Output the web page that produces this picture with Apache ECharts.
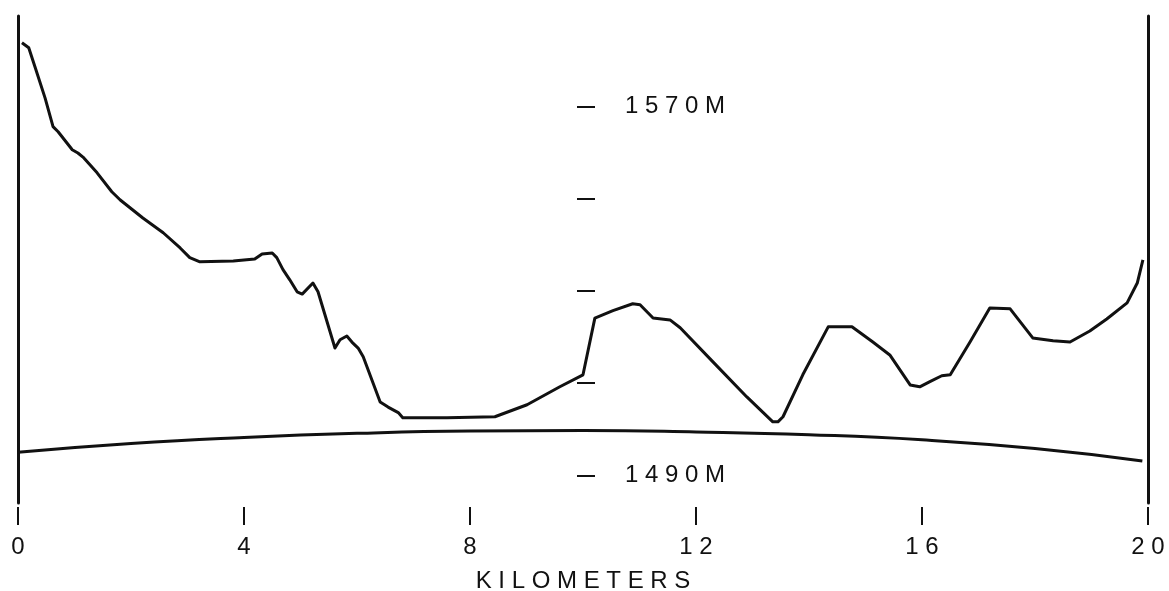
<!DOCTYPE html>
<html>
<head>
<meta charset="utf-8">
<script src="https://cdn.jsdelivr.net/npm/echarts@6/dist/echarts.min.js"></script>
<style>
  html, body { margin: 0; padding: 0; background: #fff; }
  #chart { width: 1169px; height: 591px; }
</style>
</head>
<body>
<div id="chart"></div>
<script>
// terrain profile along the path (km, metres)
const profileKm = [0.07, 0.19, 0.30, 0.48, 0.62, 0.71, 0.96, 1.06, 1.15, 1.40, 1.66, 1.81, 2.21, 2.57, 2.87, 3.04, 3.22,
  3.81, 4.19, 4.32, 4.50, 4.58, 4.69, 4.81, 4.94, 5.03, 5.22, 5.31, 5.61, 5.70, 5.82, 5.91, 6.02, 6.11, 6.41, 6.55,
  6.73, 6.81, 7.59, 8.44, 9.01, 9.59, 10.00, 10.21, 10.53, 10.88, 11.01, 11.24, 11.54, 11.72, 12.30, 12.90, 13.36,
  13.45, 13.54, 13.89, 14.34, 14.76, 15.13, 15.43, 15.79, 15.96, 16.14, 16.35, 16.50, 16.85, 17.20, 17.56, 17.96,
  18.32, 18.62, 18.97, 19.27, 19.63, 19.81, 19.91];
const profileM = [1583.8, 1582.7, 1578.6, 1571.8, 1565.6, 1564.5, 1560.6, 1559.9, 1559.0, 1555.6, 1551.5, 1549.7, 1545.8,
  1542.6, 1539.3, 1537.2, 1536.3, 1536.5, 1536.9, 1538.0, 1538.2, 1537.2, 1534.6, 1532.4, 1529.8, 1529.3, 1531.7,
  1529.8, 1517.6, 1519.4, 1520.2, 1518.9, 1517.6, 1515.7, 1505.9, 1504.8, 1503.6, 1502.5, 1502.5, 1502.7, 1505.3,
  1509.2, 1511.8, 1524.1, 1525.7, 1527.2, 1527.0, 1524.1, 1523.7, 1522.0, 1514.6, 1507.0, 1501.6, 1501.6, 1502.7,
  1511.8, 1522.2, 1522.2, 1518.9, 1516.1, 1509.6, 1509.2, 1510.3, 1511.6, 1511.8, 1518.9, 1526.3, 1526.1, 1519.8,
  1519.2, 1518.9, 1521.3, 1523.9, 1527.4, 1531.7, 1536.7];

// earth-curvature reference line
const curveKm = [0, 2, 4, 6, 8, 10, 12, 14, 16, 18, 19.9];
const curveM = [1495.0, 1496.9, 1498.2, 1499.1, 1499.6, 1499.7, 1499.4, 1498.8, 1497.7, 1495.8, 1493.1];

const xTicks = [0, 4, 8, 12, 16, 20];
const xTickLabels = ['0', '4', '8', '1 2', '1 6', '2 0'];
const yTicks = [1490, 1510, 1530, 1550, 1570];
const yLabelValues = [1490, 1570];
const yLabelText = ['1 4 9 0 M', '1 5 7 0 M'];

const Y_MIN = 1484;
const Y_MAX = 1589.6;
const INK = '#111';
const FONT = 'Liberation Sans';

const chart = echarts.init(document.getElementById('chart'));

const edgeAxis = (pos) => ({
  type: 'value', position: pos, min: Y_MIN, max: Y_MAX,
  axisLine: { show: true, lineStyle: { color: INK, width: 3 } },
  axisTick: { show: false }, axisLabel: { show: false }, splitLine: { show: false }
});

chart.setOption({
  animation: false,
  backgroundColor: '#fff',
  grid: { left: 18, right: 21, top: 16, bottom: 88, outerBoundsMode: 'none', containLabel: false },
  xAxis: {
    type: 'value', min: 0, max: 20, offset: 4,
    axisLine: { show: false },
    axisTick: { show: true, customValues: xTicks, length: 18, lineStyle: { color: INK, width: 2 } },
    axisLabel: {
      customValues: xTicks, margin: 28, color: INK, fontFamily: FONT, fontSize: 24,
      formatter: v => xTickLabels[xTicks.indexOf(v)]
    },
    splitLine: { show: false },
    name: 'K I L O M E T E R S', nameLocation: 'middle', nameGap: 62,
    nameTextStyle: { color: INK, fontFamily: FONT, fontSize: 24 }
  },
  yAxis: [
    {
      type: 'value', position: 'left', offset: -559, min: Y_MIN, max: Y_MAX,
      axisLine: { show: false },
      axisTick: { show: true, inside: true, customValues: yTicks, length: 18, lineStyle: { color: INK, width: 2 } },
      axisLabel: {
        inside: true, margin: 48, customValues: yLabelValues, color: INK, fontFamily: FONT, fontSize: 24,
        formatter: v => yLabelText[yLabelValues.indexOf(v)]
      },
      splitLine: { show: false }
    },
    edgeAxis('left'),
    edgeAxis('right')
  ],
  series: [
    {
      type: 'line', name: 'profile', symbol: 'none',
      data: profileKm.map((k, i) => [k, profileM[i]]),
      lineStyle: { color: INK, width: 3, join: 'round' }
    },
    {
      type: 'line', name: 'curvature', symbol: 'none', smooth: true,
      data: curveKm.map((k, i) => [k, curveM[i]]),
      lineStyle: { color: INK, width: 3 }
    }
  ]
});
</script>
</body>
</html>
